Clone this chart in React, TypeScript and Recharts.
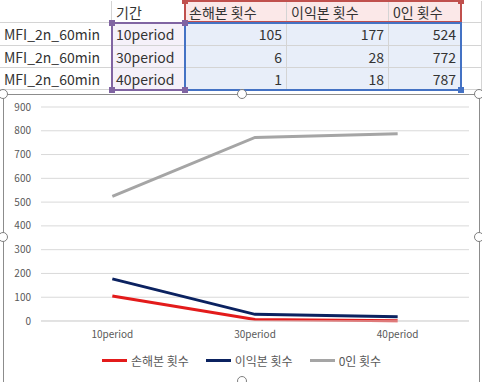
import React from "react";
import { LineChart, Line, XAxis, YAxis, CartesianGrid } from "recharts";

// sheet / chart data
const rowLabels = ["MFI_2n_60min", "MFI_2n_60min", "MFI_2n_60min"];
const periods = ["10period", "30period", "40period"];
const seriesNames = ["손해본 횟수", "이익본 횟수", "0인 횟수"];
const lossCounts = [105, 6, 1];
const profitCounts = [177, 28, 18];
const zeroCounts = [524, 772, 787];
const yTicks = [0, 100, 200, 300, 400, 500, 600, 700, 800, 900];

const seriesColors = ["#e31b1b", "#0b2260", "#a5a5a5"];
const seriesValues = [lossCounts, profitCounts, zeroCounts];

const data = periods.map((p, i) => ({
  name: p,
  s0: lossCounts[i],
  s1: profitCounts[i],
  s2: zeroCounts[i],
}));

const FONT = "'Noto Sans CJK KR', 'Noto Sans', sans-serif";

// column edges of the sheet (x) and row edges (y)
const colX = [0, 112, 185, 287, 389, 461, 482];
const rowY = [1, 23, 46, 68, 90];

function Cell({
  x0, x1, y0, y1, text, align = "left", bg,
}: {
  x0: number; x1: number; y0: number; y1: number; text: string; align?: "left" | "right"; bg?: string;
}) {
  return (
    <div
      style={{
        position: "absolute",
        left: x0,
        top: y0,
        width: x1 - x0,
        height: y1 - y0,
        background: bg,
        boxSizing: "border-box",
        borderRight: "1px solid #d4d4d4",
        borderBottom: "1px solid #d4d4d4",
        fontSize: 14,
        lineHeight: `${y1 - y0}px`,
        color: "#333",
        textAlign: align,
        padding: "0 4px",
        whiteSpace: "nowrap",
        overflow: "hidden",
      }}
    >
      {text}
    </div>
  );
}

function Sheet() {
  const cells: React.ReactNode[] = [];
  // header row
  cells.push(<Cell key="h0" x0={colX[0]} x1={colX[1]} y0={rowY[0]} y1={rowY[1]} text="" />);
  cells.push(<Cell key="h1" x0={colX[1]} x1={colX[2]} y0={rowY[0]} y1={rowY[1]} text="기간" />);
  seriesNames.forEach((n, j) =>
    cells.push(
      <Cell key={"hs" + j} x0={colX[2 + j]} x1={colX[3 + j]} y0={rowY[0]} y1={rowY[1]} text={n} bg="#fbe8e8" />
    )
  );
  cells.push(<Cell key="hx" x0={colX[5]} x1={colX[6]} y0={rowY[0]} y1={rowY[1]} text="" />);
  rowLabels.forEach((r, i) => {
    const y0 = rowY[i + 1];
    const y1 = rowY[i + 2];
    cells.push(<Cell key={"r" + i} x0={colX[0]} x1={colX[1]} y0={y0} y1={y1} text={r} />);
    cells.push(<Cell key={"p" + i} x0={colX[1]} x1={colX[2]} y0={y0} y1={y1} text={periods[i]} bg="#f5f1f9" />);
    seriesValues.forEach((vals, j) =>
      cells.push(
        <Cell key={`v${i}${j}`} x0={colX[2 + j]} x1={colX[3 + j]} y0={y0} y1={y1} text={String(vals[i])} align="right" bg="#e8eef9" />
      )
    );
    cells.push(<Cell key={"x" + i} x0={colX[5]} x1={colX[6]} y0={y0} y1={y1} text="" />);
  });

  const box = (key: string, x0: number, y0: number, x1: number, y1: number, color: string) => (
    <div
      key={key}
      style={{
        position: "absolute",
        left: x0,
        top: y0,
        width: x1 - x0,
        height: y1 - y0,
        border: `2px solid ${color}`,
        boxSizing: "border-box",
      }}
    />
  );
  const knob = (key: string, x: number, y: number, color: string) => (
    <div key={key} style={{ position: "absolute", left: x - 3, top: y - 3, width: 6, height: 6, background: color }} />
  );

  return (
    <>
      {cells}
      {box("red", colX[2] - 1, rowY[0] - 1, colX[5] + 1, rowY[1], "#c0504d")}
      {box("pur", colX[1] - 1, rowY[1] - 1, colX[2] + 1, rowY[4] + 1, "#8064a2")}
      {box("blu", colX[2] - 1, rowY[1] - 1, colX[5] + 1, rowY[4] + 1, "#4472c4")}
      {knob("k1", colX[2], rowY[0], "#c0504d")}
      {knob("k2", colX[5], rowY[0], "#c0504d")}
      {knob("k3", colX[1], rowY[1], "#8064a2")}
      {knob("k4", colX[2], rowY[1], "#8064a2")}
      {knob("k5", colX[1], rowY[4], "#8064a2")}
      {knob("k6", colX[2], rowY[4], "#8064a2")}
      {knob("k7", colX[5], rowY[4], "#4472c4")}
    </>
  );
}

function Handle({ x, y }: { x: number; y: number }) {
  return (
    <div
      style={{
        position: "absolute",
        left: x - 5,
        top: y - 5,
        width: 10,
        height: 10,
        borderRadius: "50%",
        border: "1px solid #7f7f7f",
        background: "#fff",
        boxSizing: "border-box",
      }}
    />
  );
}

export default function App() {
  const cx = 3;
  const cy = 94;
  const cw = 477;
  const ch = 290;
  return (
    <div
      style={{
        position: "fixed",
        left: 0,
        top: 0,
        width: 482,
        height: 382,
        background: "#fff",
        fontFamily: FONT,
        overflow: "hidden",
      }}
    >
      <Sheet />
      <div
        style={{
          position: "absolute",
          left: cx,
          top: cy,
          width: cw,
          height: ch,
          border: "1px solid #8c8c8c",
          background: "#fff",
          boxSizing: "border-box",
        }}
      >
        <LineChart
          width={cw - 2}
          height={ch - 2}
          data={data}
          margin={{ top: 12, right: 10, left: 0, bottom: 32 }}
          style={{ fontFamily: FONT }}
        >
          <CartesianGrid vertical={false} stroke="#d9d9d9" strokeWidth={1} />
          <XAxis
            dataKey="name"
            scale="band"
            height={30}
            axisLine={{ stroke: "#d9d9d9" }}
            tickLine={false}
            tickSize={6}
            tickMargin={4}
            tick={{ fontSize: 10, fill: "#595959" }}
          />
          <YAxis
            width={37}
            domain={[0, 900]}
            ticks={yTicks}
            axisLine={false}
            tickLine={false}
            tickMargin={4}
            tick={{ fontSize: 10, fill: "#595959" }}
          />
          {seriesNames.map((n, j) => (
            <Line
              key={n}
              name={n}
              dataKey={"s" + j}
              stroke={seriesColors[j]}
              strokeWidth={3}
              dot={false}
              type="linear"
              isAnimationActive={false}
            />
          ))}
        </LineChart>
        {/* legend */}
        <div
          style={{
            position: "absolute",
            left: 0,
            top: 257,
            width: cw - 2,
            display: "flex",
            justifyContent: "center",
            alignItems: "center",
            gap: 17,
            fontSize: 12,
            color: "#595959",
          }}
        >
          {seriesNames.map((n, j) => (
            <div key={n} style={{ display: "flex", alignItems: "center", gap: 4 }}>
              <div style={{ width: 25, height: 3, background: seriesColors[j] }} />
              <span>{n}</span>
            </div>
          ))}
        </div>
      </div>
      <Handle x={cx} y={cy} />
      <Handle x={cx + cw / 2} y={cy} />
      <Handle x={cx + cw - 1} y={cy} />
      <Handle x={cx} y={cy + 143} />
      <Handle x={cx + cw - 1} y={cy + 143} />
      <Handle x={cx + cw / 2} y={381} />
    </div>
  );
}
